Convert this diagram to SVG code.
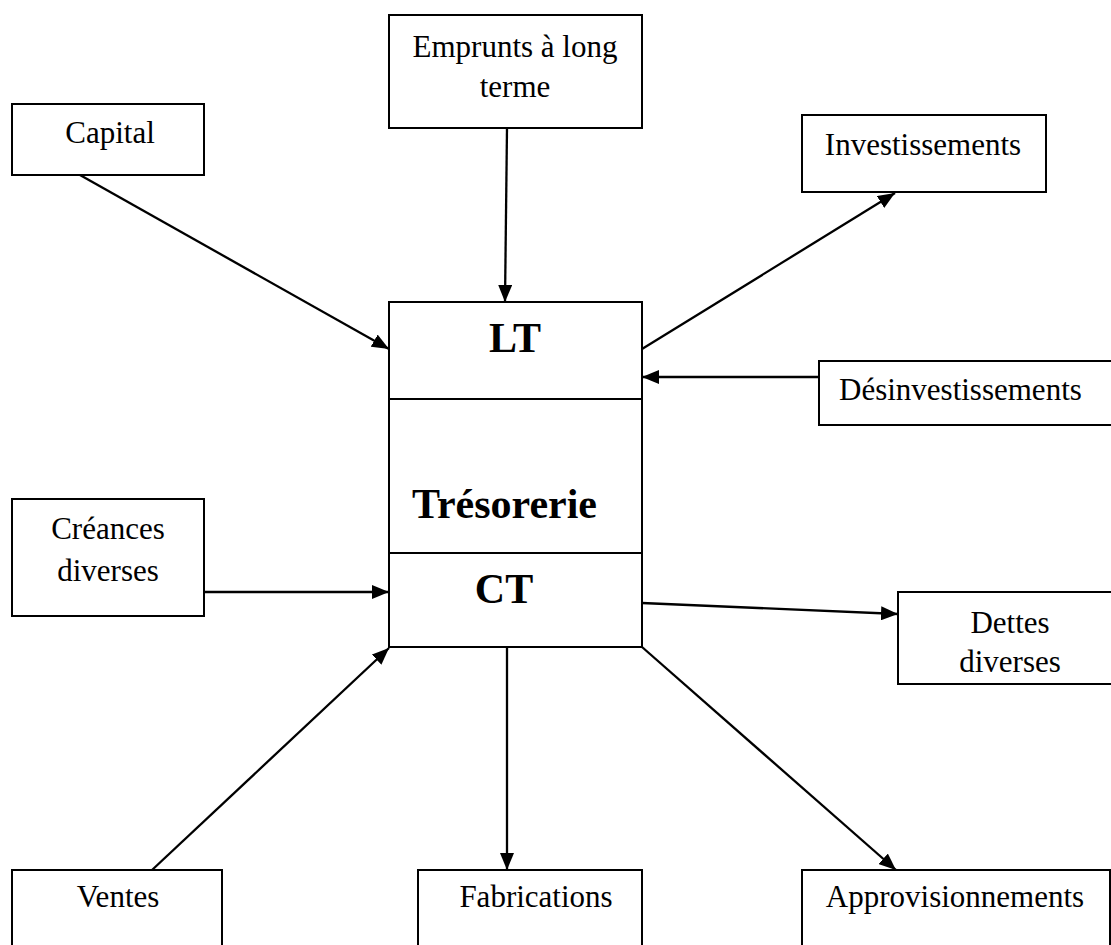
<svg xmlns="http://www.w3.org/2000/svg" width="1111" height="945" viewBox="0 0 1111 945">
  <style>
    .box { fill: #fff; stroke: #000; stroke-width: 2; }
    .lbl { font-family: "Liberation Serif", "Times New Roman", serif; font-size: 31px; fill: #000; }
    .big { font-family: "Liberation Serif", "Times New Roman", serif; font-size: 42px; font-weight: bold; fill: #000; }
    .mid { text-anchor: middle; }
    .link { fill: none; stroke: #000; stroke-width: 2.3; marker-end: url(#arrow); }
  </style>
  <defs>
    <marker id="arrow" markerUnits="userSpaceOnUse" markerWidth="18" markerHeight="14" refX="17" refY="7" orient="auto">
      <path d="M0,0 L17,7 L0,14 Z" fill="#000"/>
    </marker>
  </defs>
  <rect width="1111" height="945" fill="#fff"/>

  <!-- central treasury block -->
  <g id="tresorerie">
    <rect class="box" x="389" y="302" width="253" height="345"/>
    <line x1="389" y1="399" x2="642" y2="399" stroke="#000" stroke-width="2"/>
    <line x1="389" y1="553" x2="642" y2="553" stroke="#000" stroke-width="2"/>
    <text class="big mid" x="515" y="352">LT</text>
    <text class="big" x="412" y="518">Trésorerie</text>
    <text class="big mid" x="504" y="603">CT</text>
  </g>

  <g id="emprunts">
    <rect class="box" x="389" y="15" width="253" height="113"/>
    <text class="lbl mid" x="515" y="57">Emprunts à long</text>
    <text class="lbl mid" x="515" y="97">terme</text>
  </g>

  <g id="capital">
    <rect class="box" x="12" y="104" width="192" height="71"/>
    <text class="lbl mid" x="110" y="143">Capital</text>
  </g>

  <g id="investissements">
    <rect class="box" x="802" y="115" width="244" height="77"/>
    <text class="lbl mid" x="923" y="155">Investissements</text>
  </g>

  <g id="desinvestissements">
    <rect class="box" x="819" y="361" width="300" height="64"/>
    <text class="lbl" x="839" y="400">Désinvestissements</text>
  </g>

  <g id="creances">
    <rect class="box" x="12" y="499" width="192" height="117"/>
    <text class="lbl mid" x="108" y="539">Créances</text>
    <text class="lbl mid" x="108" y="581">diverses</text>
  </g>

  <g id="dettes">
    <rect class="box" x="898" y="592" width="220" height="92"/>
    <text class="lbl mid" x="1010" y="633">Dettes</text>
    <text class="lbl mid" x="1010" y="672">diverses</text>
  </g>

  <g id="ventes">
    <rect class="box" x="12" y="870" width="210" height="90"/>
    <text class="lbl mid" x="118" y="907">Ventes</text>
  </g>

  <g id="fabrications">
    <rect class="box" x="418" y="870" width="224" height="90"/>
    <text class="lbl mid" x="536" y="907">Fabrications</text>
  </g>

  <g id="approvisionnements">
    <rect class="box" x="802" y="870" width="308" height="90"/>
    <text class="lbl mid" x="955" y="907">Approvisionnements</text>
  </g>

  <!-- flows in and out of the treasury -->
  <g id="connectors">
    <line class="link" x1="507" y1="128" x2="505" y2="302"/>
    <line class="link" x1="80" y1="175" x2="389" y2="349"/>
    <line class="link" x1="642" y1="349" x2="895" y2="193"/>
    <line class="link" x1="819" y1="377" x2="642" y2="377"/>
    <line class="link" x1="204" y1="592" x2="389" y2="592"/>
    <line class="link" x1="642" y1="603" x2="898" y2="614"/>
    <line class="link" x1="152" y1="870" x2="389" y2="648"/>
    <line class="link" x1="507" y1="647" x2="507" y2="870"/>
    <line class="link" x1="642" y1="647" x2="896" y2="870"/>
  </g>
</svg>
